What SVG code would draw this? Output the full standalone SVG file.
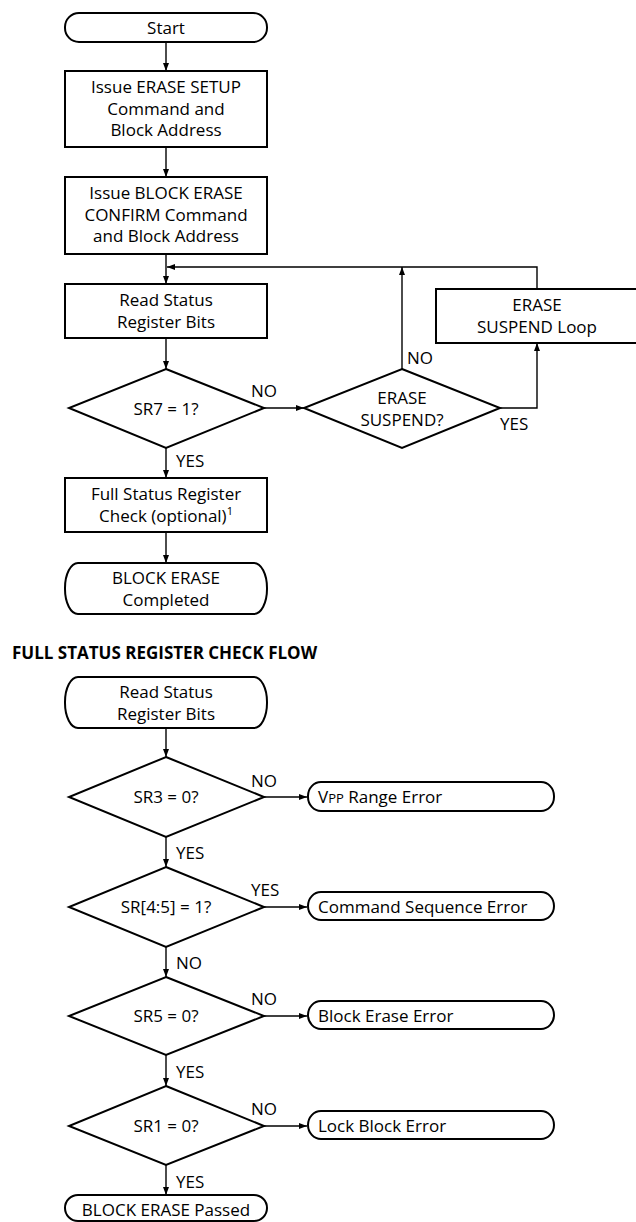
<svg xmlns="http://www.w3.org/2000/svg" width="636" height="1222" viewBox="0 0 636 1222">
<style>
.n{fill:#fff;stroke:#000;stroke-width:2}
.t{font-family:"Open Sans","Liberation Sans",sans-serif;font-size:17px;fill:#000}
.c{text-anchor:middle}
.h{font-family:"Open Sans","Liberation Sans",sans-serif;font-size:17px;font-weight:bold;fill:#000}
.e{fill:none;stroke:#000;stroke-width:1.4}
</style>
<defs>
<marker id="a" markerUnits="userSpaceOnUse" markerWidth="8" markerHeight="8" viewBox="0 0 8 8" refX="8" refY="4" orient="auto">
<path d="M0,1 L8,4 L0,7 Z" fill="#000"/>
</marker>
</defs>
<rect width="636" height="1222" fill="#fff"/>
<g id="connectors">
<path class="e" marker-end="url(#a)" d="M166,42 V71"/>
<path class="e" marker-end="url(#a)" d="M166,148 V177"/>
<path class="e" marker-end="url(#a)" d="M166,255 V284"/>
<path class="e" marker-end="url(#a)" d="M166,339 V369"/>
<path class="e" marker-end="url(#a)" d="M264,408 H304"/>
<path class="e" marker-end="url(#a)" d="M402,369 V267"/>
<path class="e" marker-end="url(#a)" d="M537,289 V267 H167"/>
<path class="e" marker-end="url(#a)" d="M500,408 H537 V343"/>
<path class="e" marker-end="url(#a)" d="M166,448 V478"/>
<path class="e" marker-end="url(#a)" d="M166,533 V563"/>
<path class="e" marker-end="url(#a)" d="M166,728 V757"/>
<path class="e" marker-end="url(#a)" d="M264,797 H307"/>
<path class="e" marker-end="url(#a)" d="M166,837 V867"/>
<path class="e" marker-end="url(#a)" d="M264,907 H307"/>
<path class="e" marker-end="url(#a)" d="M166,947 V977"/>
<path class="e" marker-end="url(#a)" d="M264,1016 H307"/>
<path class="e" marker-end="url(#a)" d="M166,1055 V1086"/>
<path class="e" marker-end="url(#a)" d="M264,1126 H307"/>
<path class="e" marker-end="url(#a)" d="M166,1165 V1195"/>
<text class="t" x="251" y="397">NO</text>
<text class="t" x="176" y="467">YES</text>
<text class="t" x="407" y="364">NO</text>
<text class="t" x="500" y="430">YES</text>
<text class="t" x="251" y="787">NO</text>
<text class="t" x="176" y="859">YES</text>
<text class="t" x="251" y="896">YES</text>
<text class="t" x="176" y="969">NO</text>
<text class="t" x="251" y="1005">NO</text>
<text class="t" x="176" y="1078">YES</text>
<text class="t" x="251" y="1115">NO</text>
<text class="t" x="176" y="1188">YES</text>
</g>
<g id="start">
<rect class="n" x="65" y="13" width="202" height="29" rx="14" ry="14"/>
<text class="t c" x="166" y="34">Start</text>
</g>
<g id="erase-setup">
<rect class="n" x="65" y="71" width="202" height="76"/>
<text class="t c" x="166" y="93">Issue ERASE SETUP</text>
<text class="t c" x="166" y="115">Command and</text>
<text class="t c" x="166" y="136">Block Address</text>
</g>
<g id="erase-confirm">
<rect class="n" x="65" y="177" width="202" height="77"/>
<text class="t c" x="166" y="199">Issue BLOCK ERASE</text>
<text class="t c" x="166" y="221">CONFIRM Command</text>
<text class="t c" x="166" y="242">and Block Address</text>
</g>
<g id="read-status">
<rect class="n" x="65" y="284" width="202" height="54"/>
<text class="t c" x="166" y="306">Read Status</text>
<text class="t c" x="166" y="328">Register Bits</text>
</g>
<g id="sr7">
<polygon class="n" points="166,369 264,408 166,448 69,408"/>
<text class="t c" x="166" y="415">SR7 = 1?</text>
</g>
<g id="erase-suspend">
<polygon class="n" points="402,369 500,408 402,448 304,408"/>
<text class="t c" x="402" y="404">ERASE</text>
<text class="t c" x="402" y="426">SUSPEND?</text>
</g>
<g id="suspend-loop">
<rect class="n" x="436" y="289" width="204" height="54"/>
<text class="t c" x="537" y="311">ERASE</text>
<text class="t c" x="537" y="333">SUSPEND Loop</text>
</g>
<g id="full-check">
<rect class="n" x="65" y="478" width="202" height="54"/>
<text class="t c" x="166" y="500">Full Status Register</text>
<text class="t c" x="166" y="522">Check (optional)<tspan font-size="11" dy="-7">1</tspan></text>
</g>
<g id="completed">
<rect class="n" x="65" y="563" width="202" height="51" rx="13" ry="25"/>
<text class="t c" x="166" y="584">BLOCK ERASE</text>
<text class="t c" x="166" y="606">Completed</text>
</g>
<text class="h" x="12" y="659">FULL STATUS REGISTER CHECK FLOW</text>
<g id="read-status-2">
<rect class="n" x="65" y="677" width="202" height="51" rx="13" ry="25"/>
<text class="t c" x="166" y="698">Read Status</text>
<text class="t c" x="166" y="720">Register Bits</text>
</g>
<g id="sr3">
<polygon class="n" points="166,757 264,797 166,837 69,797"/>
<text class="t c" x="166" y="803">SR3 = 0?</text>
</g>
<g id="vpp-error">
<rect class="n" x="308" y="782" width="246" height="29" rx="13" ry="14"/>
<text class="t" x="318" y="803">V<tspan font-size="13">PP</tspan> Range Error</text>
</g>
<g id="sr45">
<polygon class="n" points="166,867 264,907 166,947 69,907"/>
<text class="t c" x="166" y="913">SR[4:5] = 1?</text>
</g>
<g id="cmd-error">
<rect class="n" x="308" y="892" width="246" height="28" rx="13" ry="14"/>
<text class="t" x="318" y="913">Command Sequence Error</text>
</g>
<g id="sr5">
<polygon class="n" points="166,977 264,1016 166,1055 69,1016"/>
<text class="t c" x="166" y="1022">SR5 = 0?</text>
</g>
<g id="block-error">
<rect class="n" x="308" y="1001" width="246" height="28" rx="13" ry="14"/>
<text class="t" x="318" y="1022">Block Erase Error</text>
</g>
<g id="sr1">
<polygon class="n" points="166,1086 264,1126 166,1165 69,1126"/>
<text class="t c" x="166" y="1132">SR1 = 0?</text>
</g>
<g id="lock-error">
<rect class="n" x="308" y="1111" width="246" height="28" rx="13" ry="14"/>
<text class="t" x="318" y="1132">Lock Block Error</text>
</g>
<g id="passed">
<rect class="n" x="65" y="1195" width="202" height="26" rx="13" ry="13"/>
<text class="t c" x="166" y="1216">BLOCK ERASE Passed</text>
</g>
</svg>
